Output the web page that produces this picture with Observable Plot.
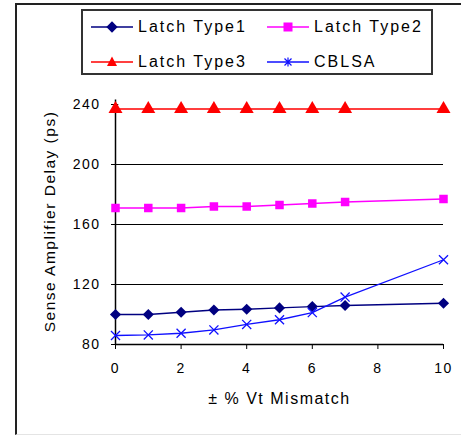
<!DOCTYPE html>
<html>
<head>
<meta charset="utf-8">
<script src="https://cdn.jsdelivr.net/npm/d3@7"></script>
<script src="https://cdn.jsdelivr.net/npm/@observablehq/plot@0.6"></script>
<style>
  body { margin: 0; background: #fff; }
  #wrap { position: relative; width: 461px; height: 436px; overflow: hidden; font-family: "Liberation Sans", Arial, sans-serif; }
  #frame { position: absolute; left: 15px; top: 3px; width: 460px; height: 429px; border-left: 2px solid #222; border-top: 2px solid #222; border-bottom: 1px solid #e4e4e4; pointer-events: none; }
  #legend { position: absolute; left: 81px; top: 9px; width: 348px; height: 62px; border: 2px solid #333; background: #fff; }
  .item { position: absolute; display: flex; align-items: center; height: 18px; font-size: 16px; letter-spacing: 2px; color: #000; }
  .item svg { margin-right: 5px; }
</style>
</head>
<body>
<div id="wrap"><div id="frame"></div><div id="legend"></div></div>
<script>
const mismatch = [0, 1, 2, 3, 4, 5, 6, 7, 10];
const latchType1 = [100, 100, 101.5, 103, 103.5, 104.4, 105.3, 106, 107.5];
const latchType2 = [171, 171, 171, 172, 172, 173, 174, 175, 177];
const latchType3 = [237, 237, 237, 237, 237, 237, 237, 237, 237];
const cblsa = [86, 86.4, 87.5, 89.7, 93.4, 96.5, 101.3, 111.6, 136.5];
const seriesNames = ["Latch Type1", "Latch Type2", "Latch Type3", "CBLSA"];
const xTicks = [0, 2, 4, 6, 8, 10];
const yTicks = [80, 120, 160, 200, 240];

const series = [
  {name: seriesNames[0], values: latchType1, color: "#000080", symbol: "diamond2", r: 5},
  {name: seriesNames[1], values: latchType2, color: "#ff00ff", symbol: "square", r: 4.8},
  {name: seriesNames[2], values: latchType3, color: "#ff0000", symbol: "triangle", r: 5.2},
  {name: seriesNames[3], values: cblsa, color: "#1010ff", symbol: "times", r: 4.2}
];
const rows = series.flatMap(s => s.values.map((v, i) => ({x: mismatch[i], y: v, name: s.name})));

const marks = [
  Plot.ruleY([120, 160, 200], {stroke: "#000", strokeWidth: 1}),
  Plot.ruleY(yTicks, {x1: 0, x2: 0.1, stroke: "#000"}),
  Plot.ruleX([0], {y1: 80, y2: 243, stroke: "#000", strokeWidth: 1.5}),
  Plot.ruleY([80], {stroke: "#000", strokeWidth: 1.5}),
  Plot.axisX({ticks: xTicks, tickSize: 5, tickPadding: 14, label: null, fontSize: 14, tickFormat: d => d}),
  Plot.axisY({ticks: yTicks, tickSize: 4, tickPadding: 11, label: null, fontSize: 14, tickFormat: d => d}),
  Plot.text(["± % Vt Mismatch"], {frameAnchor: "bottom", dy: 59, fontSize: 16, fill: "#000", style: "letter-spacing:2px"}),
  Plot.text(["Sense Amplifier Delay (ps)"], {frameAnchor: "left", textAnchor: "middle", dx: -65, dy: -3, rotate: -90, fontSize: 15.5, fill: "#000"})
];
for (const s of series) {
  const d = rows.filter(r => r.name === s.name);
  marks.push(Plot.line(d, {x: "x", y: "y", stroke: s.color, strokeWidth: 1.3}));
  if (s.symbol === "times") {
    marks.push(Plot.dot(d, {x: "x", y: "y", symbol: s.symbol, r: s.r, stroke: s.color, strokeWidth: 1.3}));
  } else {
    marks.push(Plot.dot(d, {x: "x", y: "y", symbol: s.symbol, r: s.r, fill: s.color, stroke: "none"}));
  }
}

const chart = Plot.plot({
  width: 461,
  height: 436,
  marginLeft: 115,
  marginRight: 18,
  marginTop: 104,
  marginBottom: 92,
  style: {fontFamily: "'Liberation Sans', Arial, sans-serif", fontSize: "14px", color: "#000", background: "transparent", letterSpacing: "1.5px"},
  x: {domain: [0, 10]},
  y: {domain: [80, 240]},
  marks
});
chart.style.position = "absolute";
chart.style.left = "0px";
chart.style.top = "0px";
document.getElementById("wrap").prepend(chart);

// Legend
const legend = document.getElementById("legend");
const pos = [[8, 7], [184, 7], [8, 42], [184, 42]];
const symPaths = {
  "diamond2": '<rect x="17" y="4" width="8" height="8" transform="rotate(45 21 8)" fill="C"/>',
  "square": '<rect x="16.5" y="3.5" width="9" height="9" fill="C"/>',
  "triangle": '<polygon points="21,2.5 26,12 16,12" fill="C"/>',
  "times": '<path d="M17.5,4.5 L24.5,11.5 M24.5,4.5 L17.5,11.5 M21,3.5 L21,12.5" stroke="C" stroke-width="1.2" fill="none"/>'
};
series.forEach((s, i) => {
  const el = document.createElement("div");
  el.className = "item";
  el.style.left = pos[i][0] + "px";
  el.style.top = pos[i][1] + "px";
  el.innerHTML = `<svg width="42" height="16"><line x1="0" y1="8" x2="42" y2="8" stroke="${s.color}" stroke-width="1.3"/>${symPaths[s.symbol].replace(/C/g, s.color)}</svg><span>${s.name}</span>`;
  legend.appendChild(el);
});
</script>
</body>
</html>
